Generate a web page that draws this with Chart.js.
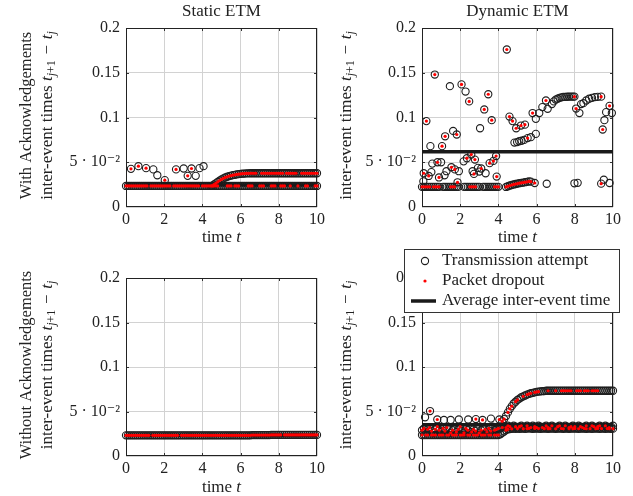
<!DOCTYPE html>
<html>
<head>
<meta charset="utf-8">
<script src="https://cdn.jsdelivr.net/npm/chart.js@4.4.0/dist/chart.umd.min.js"></script>
<style>
  body { margin: 0; background: #fff; }
  .cell { position: absolute; }
</style>
</head>
<body>
<div class="cell" style="left:0;top:0"><canvas id="tl" width="330" height="248"></canvas></div>
<div class="cell" style="left:330px;top:0"><canvas id="tr" width="303" height="248"></canvas></div>
<div class="cell" style="left:0;top:248px"><canvas id="bl" width="330" height="248"></canvas></div>
<div class="cell" style="left:330px;top:248px"><canvas id="br" width="303" height="248"></canvas></div>
<script>
// shared time grid (t, step 0.1)
var time = [
  0, 0.1, 0.2, 0.3, 0.4, 0.5, 0.6, 0.7, 0.8, 0.9,
  1, 1.1, 1.2, 1.3, 1.4, 1.5, 1.6, 1.7, 1.8, 1.9,
  2, 2.1, 2.2, 2.3, 2.4, 2.5, 2.6, 2.7, 2.8, 2.9,
  3, 3.1, 3.2, 3.3, 3.4, 3.5, 3.6, 3.7, 3.8, 3.9,
  4, 4.1, 4.2, 4.3, 4.4, 4.5, 4.6, 4.7, 4.8, 4.9,
  5, 5.1, 5.2, 5.3, 5.4, 5.5, 5.6, 5.7, 5.8, 5.9,
  6, 6.1, 6.2, 6.3, 6.4, 6.5, 6.6, 6.7, 6.8, 6.9,
  7, 7.1, 7.2, 7.3, 7.4, 7.5, 7.6, 7.7, 7.8, 7.9,
  8, 8.1, 8.2, 8.3, 8.4, 8.5, 8.6, 8.7, 8.8, 8.9,
  9, 9.1, 9.2, 9.3, 9.4, 9.5, 9.6, 9.7, 9.8, 9.9,
  10
];

var xTicks = [0, 2, 4, 6, 8, 10];
var yTicks = [0, 0.05, 0.1, 0.15, 0.2];

// ---- Static ETM, with acknowledgements ----
var tlLower = [
  0.0235, 0.0235, 0.0235, 0.0235, 0.0235, 0.0235, 0.0235, 0.0235, 0.0235, 0.0235,
  0.0235, 0.0235, 0.0235, 0.0235, 0.0235, 0.0235, 0.0235, 0.0235, 0.0235, 0.0235,
  0.0235, 0.0235, 0.0235, 0.0235, 0.0235, 0.0235, 0.0235, 0.0235, 0.0235, 0.0235,
  0.0235, 0.0235, 0.0235, 0.0235, 0.0235, 0.0235, 0.0235, 0.0235, 0.0235, 0.0235,
  0.0235, 0.0235, 0.0235, 0.0235, 0.0235, 0.0235, 0.0235, 0.0235, 0.0235, 0.0235,
  0.0235, 0.0235, 0.0235, 0.0235, 0.0235, 0.0235, 0.0235, 0.0235, 0.0235, 0.0235,
  0.0235, 0.0235, 0.0235, 0.0235, 0.0235, 0.0235, 0.0235, 0.0235, 0.0235, 0.0235,
  0.0235, 0.0235, 0.0235, 0.0235, 0.0235, 0.0235, 0.0235, 0.0235, 0.0235, 0.0235,
  0.0235, 0.0235, 0.0235, 0.0235, 0.0235, 0.0235, 0.0235, 0.0235, 0.0235, 0.0235,
  0.0235, 0.0235, 0.0235, 0.0235, 0.0235, 0.0235, 0.0235, 0.0235, 0.0235, 0.0235,
  0.0235
];
var tlLowerDrop = [
  1,1,1,1,1,1,1,1,1,1,  1,1,0,1,1,1,1,1,1,1,  1,1,1,1,0,1,1,1,1,1,
  1,1,1,1,1,1,1,1,1,0,  1,1,1,1,1,1,1,1,1,0,  0,0,0,1,1,1,0,1,1,1,
  0,0,0,0,1,1,1,0,0,0,  1,1,1,0,0,0,1,1,1,0,  0,1,1,1,0,0,1,0,0,0,
  1,0,0,0,1,1,0,0,0,1,  1
];
var tlUpper = [
  null, null, null, null, null, null, null, null, null, null,
  null, null, null, null, null, null, null, null, null, null,
  null, null, null, null, null, null, null, null, null, null,
  null, null, null, null, null, null, null, null, null, null,
  null, null, null, null, null, 0.0235, 0.025, 0.0265, 0.028, 0.0295,
  0.0308, 0.032, 0.033, 0.0338, 0.0345, 0.0351, 0.0356, 0.036, 0.0364, 0.0367,
  0.037, 0.0372, 0.0374, 0.0375, 0.0376, 0.0377, 0.0377, 0.0377, 0.0377, 0.0377,
  0.0377, 0.0377, 0.0377, 0.0377, 0.0377, 0.0377, 0.0377, 0.0377, 0.0377, 0.0377,
  0.0377, 0.0377, 0.0377, 0.0377, 0.0377, 0.0377, 0.0377, 0.0377, 0.0377, 0.0377,
  0.0377, 0.0377, 0.0377, 0.0377, 0.0377, 0.0377, 0.0377, 0.0377, 0.0377, 0.0377,
  0.0377
];
var tlUpperDrop = [
  0,0,0,0,0,0,0,0,0,0,  0,0,0,0,0,0,0,0,0,0,  0,0,0,0,0,0,0,0,0,0,
  0,0,0,0,0,0,0,0,0,0,  0,0,0,0,0,1,1,1,1,1,  1,1,1,1,1,1,1,1,1,1,
  1,1,1,1,1,1,1,1,1,0,  0,1,1,1,1,1,1,1,1,1,  1,1,1,0,1,1,1,1,1,1,
  0,0,1,1,1,1,1,1,1,1,  1
];
var tlSparseT = [0.26, 0.65, 1.05, 1.43, 1.64, 2.03, 2.62, 3.02, 3.23, 3.43, 3.65, 3.85, 4.06];
var tlSparseY = [0.0426, 0.0456, 0.0434, 0.042, 0.0355, 0.030, 0.042, 0.043, 0.0348, 0.043, 0.0348, 0.0434, 0.0456];
var tlSparseDrop = [1, 1, 1, 0, 0, 1, 1, 0, 1, 1, 0, 0, 0];
var tlAverage = 0.0245;

// ---- Dynamic ETM, with acknowledgements ----
var trLower = [
  0.0225, 0.0225, 0.0225, 0.0225, 0.0225, 0.0225, 0.0225, 0.0225, 0.0225, 0.0225,
  null, 0.0225, 0.0225, 0.0225, 0.0225, 0.0225, 0.0225, 0.0225, 0.0225, 0.0225,
  null, null, 0.0225, 0.0225, 0.0225, 0.0225, 0.0225, 0.0225, 0.0225, 0.0225,
  0.0225, null, 0.0225, 0.0225, 0.0225, 0.0225, 0.0225, 0.0225, 0.0225, 0.0225,
  0.0225, null, null, null, 0.0224, 0.0232, 0.024, 0.0246, 0.0252, 0.0257,
  0.0262, 0.0266, 0.027, 0.0273, 0.0277, 0.0281, 0.0286, 0.0283, null, 0.0268,
  null, null, null, null, null, null, null, null, null, null,
  null, null, null, null, null, null, null, null, null, null,
  null, null, null, null, null, null, null, null, null, null,
  null, null, null, null, null, null, null, null, null, null,
  null
];
var trLowerDrop = [
  1,1,1,1,1,0,1,1,1,1,  0,0,0,0,0,1,1,1,0,0,  0,0,0,0,0,1,1,1,1,0,
  0,0,0,0,0,0,0,0,1,1,  1,0,0,0,1,1,1,1,1,1,  1,1,1,1,1,1,1,1,0,1,
  0,0,0,0,0,0,0,0,0,0,  0,0,0,0,0,0,0,0,0,0,  0,0,0,0,0,0,0,0,0,0,
  0,0,0,0,0,0,0,0,0,0,  0
];
var trSparseT = [
  0.23, 0.44, 0.67, 1.05, 1.21, 1.46, 1.63, 1.82, 2.07, 2.28, 2.47, 3.04, 3.26, 3.47, 3.65, 4.44, 4.58, 4.74,
  0.07, 0.09, 0.35, 0.49, 0.54, 0.81, 0.89, 1.0, 1.18, 1.28, 1.54, 1.72, 1.86, 1.93, 2.18, 2.35, 2.58, 2.65,
  2.72, 2.77, 2.93, 3.0, 3.1, 3.33, 3.54, 3.74, 3.88, 3.91,
  4.84, 4.93, 4.98, 5.09, 5.18, 5.21, 5.35, 5.39, 5.53, 5.7, 5.79, 5.96, 5.96,
  6.14, 6.3, 6.49, 6.58, 6.8, 6.9, 7.0, 7.1, 7.2, 7.3, 7.4, 7.5, 7.6, 7.7, 7.8, 7.9, 7.98,
  8.07, 8.24, 8.33, 8.45, 8.6, 8.75, 8.9, 9.05, 9.2, 9.38,
  9.46, 9.55, 9.64, 9.82, 9.94,
  6.53, 7.98, 8.15, 9.38, 9.52, 9.82
];
var trSparseY = [
  0.096, 0.068, 0.148, 0.068, 0.079, 0.135, 0.085, 0.081, 0.137, 0.129, 0.118, 0.088, 0.109, 0.126, 0.097, 0.176, 0.101, 0.096,
  0.0287, 0.0377, 0.0347, 0.039, 0.0485, 0.050, 0.033, 0.050, 0.0354, 0.040, 0.0444, 0.042, 0.0276, 0.040, 0.051, 0.0545, 0.0586, 0.040,
  0.037, 0.053, 0.0437, 0.0396, 0.043, 0.0377, 0.049, 0.0515, 0.057, 0.034,
  0.072, 0.088, 0.0725, 0.0735, 0.091, 0.074, 0.075, 0.092, 0.077, 0.078, 0.105, 0.0985, 0.0817,
  0.105, 0.1116, 0.119, 0.1097, 0.115, 0.118, 0.120, 0.121, 0.122, 0.1225, 0.123, 0.123, 0.1232, 0.1233, 0.1233, 0.1233, 0.1233,
  0.110, 0.105, 0.115, 0.116, 0.119, 0.121, 0.122, 0.1228, 0.123, 0.1233,
  0.0866, 0.097, 0.106, 0.113, 0.105,
  0.026, 0.0265, 0.027, 0.0261, 0.0305, 0.0268
];
var trSparseDrop = [
  1, 0, 1, 1, 1, 0, 0, 1, 1, 0, 1, 0, 1, 1, 1, 1, 1, 1,
  0, 1, 1, 0, 0, 1, 1, 0, 0, 0, 1, 1, 1, 0, 0, 1, 1, 0,
  1, 1, 0, 0, 1, 0, 1, 1, 1, 1,
  0, 1, 0, 0, 1, 0, 0, 1, 1, 0, 1, 0, 0,
  0, 0, 1, 0, 0, 0, 0, 0, 0, 0, 0, 0, 0, 0, 0, 0, 1,
  1, 0, 0, 0, 0, 0, 0, 0, 0, 1,
  1, 0, 0, 1, 0,
  0, 0, 0, 1, 0, 0
];
var trAverage = 0.0616;

// ---- Static ETM, without acknowledgements ----
var blLower = [
  0.0232, 0.0232, 0.0232, 0.0232, 0.0232, 0.0232, 0.0232, 0.0232, 0.0232, 0.0232,
  0.0232, 0.0232, 0.0232, 0.0232, 0.0232, 0.0232, 0.0232, 0.0232, 0.0232, 0.0232,
  0.0232, 0.0232, 0.0232, 0.0232, 0.0232, 0.0232, 0.0232, 0.0232, 0.0232, 0.0232,
  0.0232, 0.0232, 0.0232, 0.0232, 0.0232, 0.0232, 0.0232, 0.0232, 0.0232, 0.0232,
  0.0232, 0.0232, 0.0232, 0.0232, 0.0232, 0.0232, 0.0232, 0.0232, 0.0232, 0.0232,
  0.0232, 0.0232, 0.0232, 0.0232, 0.0232, 0.0232, 0.0232, 0.0232, 0.0232, 0.0232,
  0.0232, 0.0232, 0.0232, 0.0232, 0.0232, 0.0232, 0.0235, 0.0235, 0.0235, 0.0235,
  0.0235, 0.0235, 0.0235, 0.0235, 0.0235, 0.0235, 0.0237, 0.0237, 0.0237, 0.0237,
  0.0237, 0.0237, 0.0237, 0.0237, 0.0237, 0.0237, 0.0237, 0.0237, 0.0237, 0.0237,
  0.0237, 0.0237, 0.0237, 0.0237, 0.0237, 0.0237, 0.0237, 0.0237, 0.0237, 0.0237,
  0.0237
];
var blLowerDrop = [
  1,1,1,1,1,1,1,1,1,1,  1,1,1,0,1,1,1,1,1,1,  1,1,1,1,1,1,1,1,0,1,
  1,1,1,1,1,1,1,1,1,1,  1,1,1,1,1,1,1,1,1,1,  1,1,1,1,1,1,1,1,1,1,
  1,1,1,1,1,1,1,1,1,1,  1,1,1,1,1,1,1,1,1,1,  1,1,0,1,1,1,1,1,1,1,
  1,1,1,1,1,1,1,1,1,1,  1
];
var blAverage = 0.0234;

// ---- Dynamic ETM, without acknowledgements ----
var brLower = [
  0.0236, 0.0236, 0.0236, 0.0236, 0.0236, 0.0236, 0.0236, 0.0236, 0.0236, 0.0236,
  0.0236, 0.0236, 0.0236, 0.0236, 0.0236, 0.0236, 0.0236, 0.0236, 0.0236, 0.0236,
  0.0236, 0.0236, 0.0236, 0.0236, 0.0236, 0.0236, 0.0236, 0.0236, 0.0236, 0.0236,
  0.0236, 0.0236, 0.0236, 0.0236, 0.0236, 0.0236, 0.0236, 0.0236, 0.0236, 0.0236,
  0.0236, 0.0245, 0.026, 0.0275, 0.029, 0.030, 0.0303, 0.0305, 0.0307, 0.0306,
  0.0308, 0.0306, 0.0309, 0.0307, 0.0305, 0.0308, 0.031, 0.0307, 0.0306, 0.0309,
  0.0307, 0.0308, 0.0306, 0.0309, 0.0307, 0.0308, 0.0306, 0.0307, 0.0309, 0.0307,
  0.0306, 0.0308, 0.0307, 0.0309, 0.0306, 0.0308, 0.0307, 0.0306, 0.0308, 0.0307,
  0.0309, 0.0307, 0.0306, 0.0308, 0.0307, 0.0309, 0.0306, 0.0308, 0.0307, 0.0306,
  0.0308, 0.0307, 0.0309, 0.0306, 0.0308, 0.0307, 0.0306, 0.0308, 0.0307, 0.0306,
  0.0307
];
var brLowerDrop = [
  1,0,1,1,0,1,1,1,0,1,  1,1,0,1,1,0,1,1,1,0,  1,1,1,0,1,1,0,1,1,1,
  0,1,1,1,0,1,1,0,1,1,  1,0,0,0,1,1,0,1,0,0,  1,0,0,1,0,1,1,0,0,1,
  0,1,0,0,1,0,1,1,0,0,  1,0,0,1,1,0,0,1,0,1,  1,0,1,0,0,1,1,0,1,0,
  0,1,1,0,1,0,0,1,1,0,  1
];
var brMiddle = [
  0.029, 0.031, 0.027, 0.030, 0.032, 0.028, 0.026, 0.030, 0.033, 0.029,
  0.027, 0.031, 0.028, 0.032, 0.030, 0.026, 0.029, 0.031, 0.027, 0.030,
  0.033, 0.028, 0.026, 0.031, 0.029, 0.032, 0.027, 0.030, 0.028, 0.031,
  0.026, 0.029, 0.032, 0.030, 0.027, 0.031, 0.028, 0.033, 0.029, 0.030,
  0.031, 0.031, 0.032, 0.033, 0.032, 0.034, 0.033, 0.032, 0.034, 0.033,
  0.032, 0.033, 0.034, 0.032, 0.033, 0.034, 0.033, 0.032, 0.034, 0.033,
  0.032, 0.034, 0.033, 0.032, 0.033, 0.034, 0.032, 0.033, 0.034, 0.033,
  0.032, 0.033, 0.034, 0.033, 0.032, 0.034, 0.033, 0.032, 0.033, 0.034,
  0.033, 0.032, 0.034, 0.033, 0.032, 0.033, 0.034, 0.032, 0.033, 0.034,
  0.033, 0.032, 0.033, 0.034, 0.033, 0.032, 0.034, 0.033, 0.032, 0.033,
  0.034
];
var brMiddleDrop = [
  1,1,0,1,1,1,0,1,1,1,  0,1,1,1,0,1,1,0,1,1,  1,0,1,1,1,0,1,1,1,0,
  1,1,0,1,1,1,1,0,1,1,  1,0,1,0,1,1,1,0,0,1,  0,1,1,0,0,1,0,1,0,1,
  1,0,0,1,0,1,1,0,1,0,  0,1,1,0,0,1,0,1,1,0,  1,0,0,1,1,0,1,0,0,1,
  1,0,1,1,0,0,1,0,1,0,  0
];
var brUpper = [
  null, null, null, null, null, null, null, null, null, null,
  null, null, null, null, null, null, null, null, null, null,
  null, null, null, null, null, null, null, null, null, null,
  null, null, null, null, null, null, null, null, null, null,
  null, null, 0.039, 0.0415, 0.045, 0.049, 0.053, 0.056, 0.059, 0.061,
  0.063, 0.0645, 0.066, 0.067, 0.068, 0.069, 0.0698, 0.0705, 0.071, 0.0715,
  0.072, 0.0723, 0.0726, 0.0728, 0.073, 0.0733, 0.0733, 0.0733, 0.0733, 0.0733,
  0.0733, 0.0733, 0.0733, 0.0733, 0.0733, 0.0733, 0.0733, 0.0733, 0.0733, 0.0733,
  0.0733, 0.0733, 0.0733, 0.0733, 0.0733, 0.0733, 0.0733, 0.0733, 0.0733, 0.0733,
  0.0733, 0.0733, 0.0733, 0.0733, 0.0733, 0.0733, 0.0733, 0.0733, 0.0733, 0.0733,
  0.0733
];
var brUpperDrop = [
  0,0,0,0,0,0,0,0,0,0,  0,0,0,0,0,0,0,0,0,0,  0,0,0,0,0,0,0,0,0,0,
  0,0,0,0,0,0,0,0,0,0,  0,0,1,1,0,1,1,1,0,1,  1,0,0,1,0,1,1,1,0,1,
  1,1,0,0,0,0,1,0,0,0,  1,0,0,1,1,1,1,1,1,0,  0,1,1,1,0,1,1,1,0,1,
  1,1,1,0,0,0,0,0,0,0,  0
];
var brRowT = [0.16, 0.42, 0.8, 1.15, 1.5, 1.93, 2.42, 2.82, 3.17, 3.61, 4.05];
var brRowY = [0.0435, 0.0505, 0.041, 0.0405, 0.0405, 0.041, 0.041, 0.0415, 0.0405, 0.042, 0.041];
var brRowDrop = [0, 1, 1, 0, 0, 0, 0, 1, 1, 0, 1];
var brAverage = 0.035;

var legendLabels = ['Transmission attempt', 'Packet dropout', 'Average inter-event time'];

var serif = '"Liberation Serif", "DejaVu Serif", serif';
var ink = '#222';
Chart.defaults.font.family = serif;

function track(t, y, drop) { return { t: t, y: y, drop: drop }; }

function collect(tracks, droppedOnly) {
  var out = [];
  tracks.forEach(function (tr) {
    tr.t.forEach(function (t, i) {
      var y = tr.y[i];
      if (y === null || y === undefined) return;
      if (droppedOnly && !tr.drop[i]) return;
      out.push({ x: t, y: y });
    });
  });
  return out;
}

// text made of pieces with own font and vertical shift
function richWidth(ctx, segs) {
  var w = 0;
  segs.forEach(function (s) { ctx.font = s.f; w += ctx.measureText(s.s).width; });
  return w;
}
function drawRich(ctx, segs, x, y) {
  ctx.textBaseline = 'middle';
  ctx.textAlign = 'left';
  segs.forEach(function (s) {
    ctx.font = s.f;
    ctx.fillText(s.s, x, y + (s.dy || 0));
    x += ctx.measureText(s.s).width;
  });
}
function drawRichCentered(ctx, segs, cx, cy, vertical) {
  ctx.save();
  ctx.translate(cx, cy);
  if (vertical) ctx.rotate(-Math.PI / 2);
  drawRich(ctx, segs, -richWidth(ctx, segs) / 2, 0);
  ctx.restore();
}

var F = '17px ' + serif, FI = 'italic 17px ' + serif;
var FS = '12px ' + serif, FSI = 'italic 12px ' + serif;
var FR = '16.5px ' + serif;
var yLabel = [
  { s: 'inter-event times ', f: F }, { s: 't', f: FI },
  { s: 'j', f: FSI, dy: 4 }, { s: '+1', f: FS, dy: 4 },
  { s: '\u2004\u2212\u2004', f: F }, { s: 't', f: FI }, { s: 'j', f: FSI, dy: 4 }
];
var xLabel = [{ s: 'time ', f: F }, { s: 't', f: FI }];

function makePanel(id, p) {
  var attempts = collect(p.tracks, false);
  var drops = collect(p.tracks, true);

  var decor = {
    id: 'decor',
    beforeDatasetsDraw: function (chart) {
      var ctx = chart.ctx, a = chart.chartArea;
      var xs = chart.scales.x, ys = chart.scales.y;
      ctx.save();
      ctx.strokeStyle = '#333';
      ctx.lineWidth = 1;
      ctx.beginPath();
      xTicks.slice(1, -1).forEach(function (v) {
        var px = Math.round(xs.getPixelForValue(v)) + 0.5;
        ctx.moveTo(px, a.bottom); ctx.lineTo(px, a.bottom - 3);
        ctx.moveTo(px, a.top); ctx.lineTo(px, a.top + 3);
      });
      yTicks.slice(1, -1).forEach(function (v) {
        var py = Math.round(ys.getPixelForValue(v)) + 0.5;
        ctx.moveTo(a.left, py); ctx.lineTo(a.left + 3, py);
        ctx.moveTo(a.right, py); ctx.lineTo(a.right - 3, py);
      });
      ctx.stroke();
      ctx.strokeStyle = '#222';
      ctx.strokeRect(a.left + 0.5, a.top + 0.5, a.right - a.left - 1, a.bottom - a.top - 1);
      ctx.restore();
    },
    afterDraw: function (chart) {
      var ctx = chart.ctx, a = chart.chartArea;
      var midX = (a.left + a.right) / 2, midY = (a.top + a.bottom) / 2;
      ctx.save();
      ctx.fillStyle = ink;
      if (p.title) drawRichCentered(ctx, [{ s: p.title, f: F }], midX, 12, false);
      drawRichCentered(ctx, xLabel, midX, p.xLabelY, false);
      drawRichCentered(ctx, yLabel, p.yLabelX, midY - 2, true);
      if (p.rowLabel) drawRichCentered(ctx, [{ s: p.rowLabel, f: FR }], p.rowLabelX, midY - 2, true);
      if (p.legend) {
        var L = p.legend;
        ctx.fillStyle = '#fff';
        ctx.fillRect(L.x, L.y, L.w, L.h);
        ctx.strokeStyle = '#333';
        ctx.lineWidth = 1;
        ctx.strokeRect(L.x + 0.5, L.y + 0.5, L.w - 1, L.h - 1);
        var ds = chart.data.datasets;
        ds.forEach(function (d, i) {
          var ry = L.y + 12 + i * 20;
          ctx.save();
          if (d.showLine) {
            ctx.strokeStyle = d.borderColor; ctx.lineWidth = d.borderWidth;
            ctx.beginPath(); ctx.moveTo(L.x + 7, ry); ctx.lineTo(L.x + 32, ry); ctx.stroke();
          } else {
            ctx.beginPath(); ctx.arc(L.x + 21, ry, d.pointRadius, 0, Math.PI * 2);
            if (d.pointBorderWidth > 0) {
              ctx.strokeStyle = d.pointBorderColor; ctx.lineWidth = d.pointBorderWidth; ctx.stroke();
            } else {
              ctx.fillStyle = d.pointBackgroundColor; ctx.fill();
            }
          }
          ctx.restore();
          ctx.fillStyle = ink;
          drawRich(ctx, [{ s: d.label, f: F }], L.x + 38, ry);
        });
      }
      ctx.restore();
    }
  };

  var tickFont = { family: serif, size: 16 };
  return new Chart(document.getElementById(id), {
    type: 'scatter',
    data: {
      datasets: [
        {
          label: legendLabels[0], data: attempts, order: 3, clip: false,
          pointRadius: 3.6, pointBorderWidth: 1.1, pointBorderColor: '#1e1e1e',
          pointBackgroundColor: 'rgba(0,0,0,0)', showLine: false
        },
        {
          label: legendLabels[1], data: drops, order: 1, clip: false,
          pointRadius: 1.6, pointBorderWidth: 0, pointBackgroundColor: '#ff0000',
          pointBorderColor: '#ff0000', showLine: false
        },
        {
          label: legendLabels[2], data: [{ x: 0, y: p.average }, { x: 10, y: p.average }],
          order: 2, clip: false, showLine: true, borderColor: '#1a1a1a', borderWidth: 3.5,
          pointRadius: 0
        }
      ]
    },
    options: {
      responsive: false,
      animation: false,
      events: [],
      layout: { padding: { left: 0, top: p.top, right: p.right, bottom: 0 } },
      plugins: { legend: { display: false }, tooltip: { enabled: false } },
      scales: {
        x: {
          type: 'linear', min: 0, max: 10,
          afterFit: function (s) { s.height = p.xHeight; },
          grid: { color: '#d2d2d2', drawTicks: false },
          border: { display: false },
          ticks: { stepSize: 2, autoSkip: false, maxRotation: 0, padding: 3, color: ink, font: tickFont }
        },
        y: {
          type: 'linear', min: 0, max: 0.2,
          afterFit: function (s) { s.width = p.yWidth; },
          grid: { color: '#d2d2d2', drawTicks: false },
          border: { display: false },
          ticks: {
            stepSize: 0.05, autoSkip: false, padding: 6, color: ink, font: tickFont,
            callback: function (v) {
              if (Math.abs(v - 0.05) < 1e-9) return '5 \u00b7 10\u207b\u00b2';
              return String(Math.round(v * 100) / 100);
            }
          }
        }
      }
    },
    plugins: [decor]
  });
}

makePanel('tl', {
  title: 'Static ETM', rowLabel: 'With Acknowledgements', rowLabelX: 27, yLabelX: 48,
  xLabelY: 238, top: 28, right: 13, xHeight: 41, yWidth: 126, average: tlAverage,
  tracks: [
    track(time, tlLower, tlLowerDrop),
    track(time, tlUpper, tlUpperDrop),
    track(tlSparseT, tlSparseY, tlSparseDrop)
  ]
});
makePanel('tr', {
  title: 'Dynamic ETM', yLabelX: 17,
  xLabelY: 238, top: 28, right: 20, xHeight: 41, yWidth: 92, average: trAverage,
  tracks: [
    track(time, trLower, trLowerDrop),
    track(trSparseT, trSparseY, trSparseDrop)
  ]
});
makePanel('bl', {
  rowLabel: 'Without Acknowledgements', rowLabelX: 27, yLabelX: 48,
  xLabelY: 240, top: 30, right: 13, xHeight: 40, yWidth: 126, average: blAverage,
  tracks: [track(time, blLower, blLowerDrop)]
});
makePanel('br', {
  yLabelX: 17,
  xLabelY: 240, top: 30, right: 20, xHeight: 40, yWidth: 92, average: brAverage,
  legend: { x: 74, y: 1, w: 216, h: 64 },
  tracks: [
    track(time, brLower, brLowerDrop),
    track(time, brMiddle, brMiddleDrop),
    track(time, brUpper, brUpperDrop),
    track(brRowT, brRowY, brRowDrop)
  ]
});
</script>
</body>
</html>
